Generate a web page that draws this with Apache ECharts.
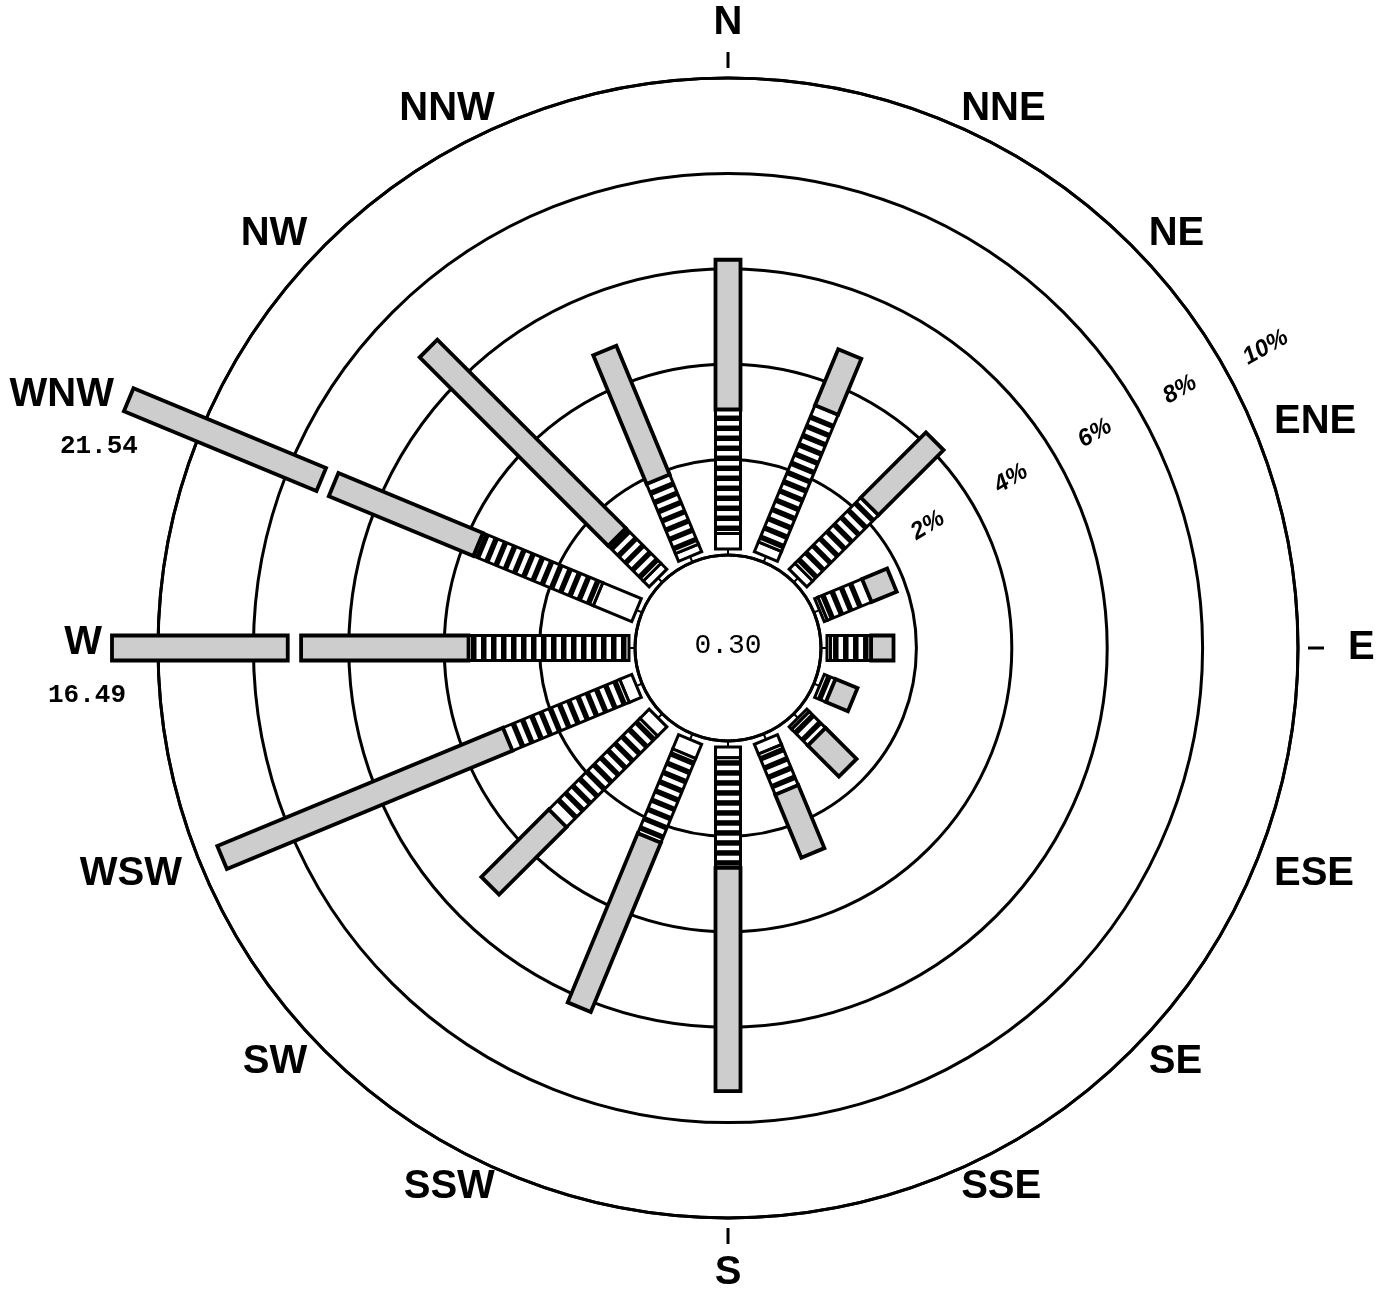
<!DOCTYPE html>
<html>
<head>
<meta charset="utf-8">
<script src="https://cdn.jsdelivr.net/npm/echarts@6/dist/echarts.min.js"></script>
<style>
html,body{margin:0;padding:0;background:#fff;}
#chart{width:1394px;height:1297px;}
</style>
</head>
<body>
<div id="chart"></div>
<script>
// ---- data ----
const directions = ['N','NNE','NE','ENE','E','ESE','SE','SSE','S','SSW','SW','WSW','W','WNW','NW','NNW'];
// frequency (%) by wind-speed class, innermost (white) to outermost (stippled)
const lightClass    = [0.45,0.35,0.30,0.20,0.20,0.10,0.20,0.35,0.35,0.45,0.40,0.40,0.00,1.00,0.30,0.30];
const moderateClass = [2.60,3.10,1.95,1.00,0.85,0.28,0.48,0.92,2.31,1.91,2.70,2.65,3.49,2.72,1.04,1.58];
const strongClass   = [3.14,1.27,1.93,0.57,0.47,0.50,0.92,1.43,4.68,3.84,2.00,6.48,13.00,17.82,5.59,2.92];
const calmValue = 0.30;
const ringValues = [2,4,6,8,10];
const ringLabels = ['2%','4%','6%','8%','10%'];

// ---- style constants ----
const AXIS_MAX = 10;
const HALF = 12.5;       // half bar width, px
const GAP = 6;           // gap between calm circle and bar, px
const RUNG = 5.5, PERIOD = 10;
const BREAK_LO = 7.0, BREAK_HI = 7.28;   // drawn axis break for off-scale bars
const STIP = '#cdcdcd';
const FONT = '"Liberation Sans", Arial, Helvetica, sans-serif';
const MONO = '"Liberation Mono", "DejaVu Sans Mono", monospace';
const DIR_FONT = 'bold 40px ' + FONT;
const VAL_FONT = 'bold 26px ' + MONO;

// compressed drawing length beyond the break (bars longer than the axis)
function shown(v){ return v <= BREAK_LO ? v : BREAK_HI + 1.55 * Math.pow(v - BREAK_HI, 0.39); }

const mctx = document.createElement('canvas').getContext('2d');
function textWidth(t, font){ mctx.font = font; return mctx.measureText(t).width; }

function renderDirection(params, api){
  const i = params.dataIndex;
  const cs = params.coordSys;
  const cx = cs.cx, cy = cs.cy;
  const p10 = api.coord([AXIS_MAX, i]);
  let ux = p10[0] - cx, uy = p10[1] - cy;
  const L = Math.hypot(ux, uy); ux /= L; uy /= L;
  const nx = -uy, ny = ux;
  const rad = v => { const p = api.coord([v, i]); return Math.hypot(p[0]-cx, p[1]-cy); };
  const at = (r, s) => [cx + ux*r + nx*s, cy + uy*r + ny*s];
  const quad = (r1, r2) => [at(r1,-HALF), at(r2,-HALF), at(r2,HALF), at(r1,HALF)];
  const seg = (r1, r2, fill, lw) => ({type:'polygon', shape:{points:quad(r1,r2)}, style:{fill:fill, stroke:'#000', lineWidth:lw || 3, lineJoin:'miter'}});
  const kids = [];
  const rOuter = rad(AXIS_MAX), rInner = rad(0);
  const cardinal = Math.max(Math.abs(ux), Math.abs(uy)) > 0.99;
  if (cardinal){
    const a = at(rOuter + 10, 0), b = at(rOuter + 26, 0);
    kids.push({type:'line', shape:{x1:a[0],y1:a[1],x2:b[0],y2:b[1]}, style:{stroke:'#000', lineWidth:3}});
  }
  const start = rInner + GAP;
  const s0 = at(rInner, 0), s1 = at(start, 0);
  kids.push({type:'line', shape:{x1:s0[0],y1:s0[1],x2:s1[0],y2:s1[1]}, style:{stroke:'#000', lineWidth:2}});
  const w = lightClass[i], h = moderateClass[i], s = strongClass[i];
  const tot = w + h + s;
  const rW = Math.max(start, rad(w));
  if (rW > start + 1) kids.push(seg(start, rW, '#fff'));
  const rH = Math.max(rW, rad(w + h));
  if (rH > rW + 1){
    kids.push(seg(rW, rH, '#fff'));
    for (let r = rW + 2.5; r + RUNG <= rH - 1.5; r += PERIOD){
      kids.push({type:'polygon', shape:{points:quad(r, r + RUNG)}, style:{fill:'#000'}});
    }
  }
  const label = directions[i];
  const hw = textWidth(label, DIR_FONT) / 2, hh = 5;
  if (tot > AXIS_MAX){
    kids.push(seg(rH, rad(BREAK_LO), STIP, 3.8));
    const rEnd = rad(shown(tot));
    kids.push(seg(rad(BREAK_HI), rEnd, STIP, 3.8));
    const e1 = at(rEnd, -HALF), e2 = at(rEnd, HALF), ec = at(rEnd, 0);
    const lx = Math.min(e1[0], e2[0]) - 10, ly = ec[1] - 5;
    kids.push({type:'text', x:lx, y:ly, style:{text:label, fill:'#000', font:DIR_FONT, align:'right', verticalAlign:'middle'}});
    kids.push({type:'text', x:lx + 24, y:ly + 52, style:{text:tot.toFixed(2), fill:'#000', font:VAL_FONT, align:'right', verticalAlign:'middle'}});
  } else {
    kids.push(seg(rH, rad(tot), STIP, 3.8));
    const m = cardinal ? (Math.abs(ux) > 0.99 ? 50 : 41) : 8;
    const P = at(rOuter + m, 0);
    const sx = Math.abs(ux) < 0.1 ? 0 : Math.sign(ux);
    const sy = Math.abs(uy) < 0.1 ? 0 : Math.sign(uy);
    const ox = cardinal ? sx*hw : sx*(hw + 12);
    const oy = cardinal ? sy*14 : sy*hh;
    kids.push({type:'text', x:P[0] + ox, y:P[1] + oy, style:{text:label, fill:'#000', font:DIR_FONT, align:'center', verticalAlign:'middle'}});
  }
  return {type:'group', children:kids};
}

function renderRing(params, api){
  const k = params.dataIndex;
  const v = ringValues[k];
  const cs = params.coordSys;
  const cx = cs.cx, cy = cs.cy;
  const a = api.coord([v, 2]), b = api.coord([v, 3]);
  const t = 0.6 + 0.025 * k;
  let ux = a[0] + t*(b[0]-a[0]) - cx, uy = a[1] + t*(b[1]-a[1]) - cy;
  const L = Math.hypot(ux, uy); ux /= L; uy /= L;
  const r = Math.hypot(a[0]-cx, a[1]-cy) + 46;
  return {type:'text', x:cx + ux*r, y:cy + uy*r, rotation:Math.atan2(-uy, ux),
    style:{text:ringLabels[k], fill:'#000', font:'italic bold 24px ' + FONT, align:'center', verticalAlign:'middle'}};
}

function renderCalm(params, api){
  const cs = params.coordSys;
  return {type:'text', x:cs.cx, y:cs.cy - 2, style:{text:calmValue.toFixed(2), fill:'#000', font:'28px ' + MONO, align:'center', verticalAlign:'middle'}};
}

const chart = echarts.init(document.getElementById('chart'));
chart.setOption({
  animation:false,
  backgroundColor:'#fff',
  polar:{center:[728, 648], radius:[93, 570]},
  angleAxis:{
    type:'category', data:directions, startAngle:101.25, clockwise:true,
    axisLine:{show:true, lineStyle:{color:'#000', width:3}},
    axisTick:{show:false}, axisLabel:{show:false}, splitLine:{show:false}
  },
  radiusAxis:{
    type:'value', min:0, max:AXIS_MAX, interval:2,
    axisLine:{show:false}, axisTick:{show:false}, axisLabel:{show:false},
    splitLine:{show:true, lineStyle:{color:'#000', width:3}}
  },
  series:[
    {type:'custom', coordinateSystem:'polar', clip:false, encode:{radius:0, angle:1},
     data:directions.map((d,i)=>[lightClass[i]+moderateClass[i]+strongClass[i], i]), renderItem:renderDirection, z:5},
    {type:'custom', coordinateSystem:'polar', clip:false, encode:{radius:0, angle:1},
     data:ringValues.map(v=>[v, 2]), renderItem:renderRing, z:4},
    {type:'custom', coordinateSystem:'polar', clip:false, encode:{radius:0, angle:1},
     data:[[0, 0]], renderItem:renderCalm, z:4}
  ]
});
</script>
</body>
</html>
